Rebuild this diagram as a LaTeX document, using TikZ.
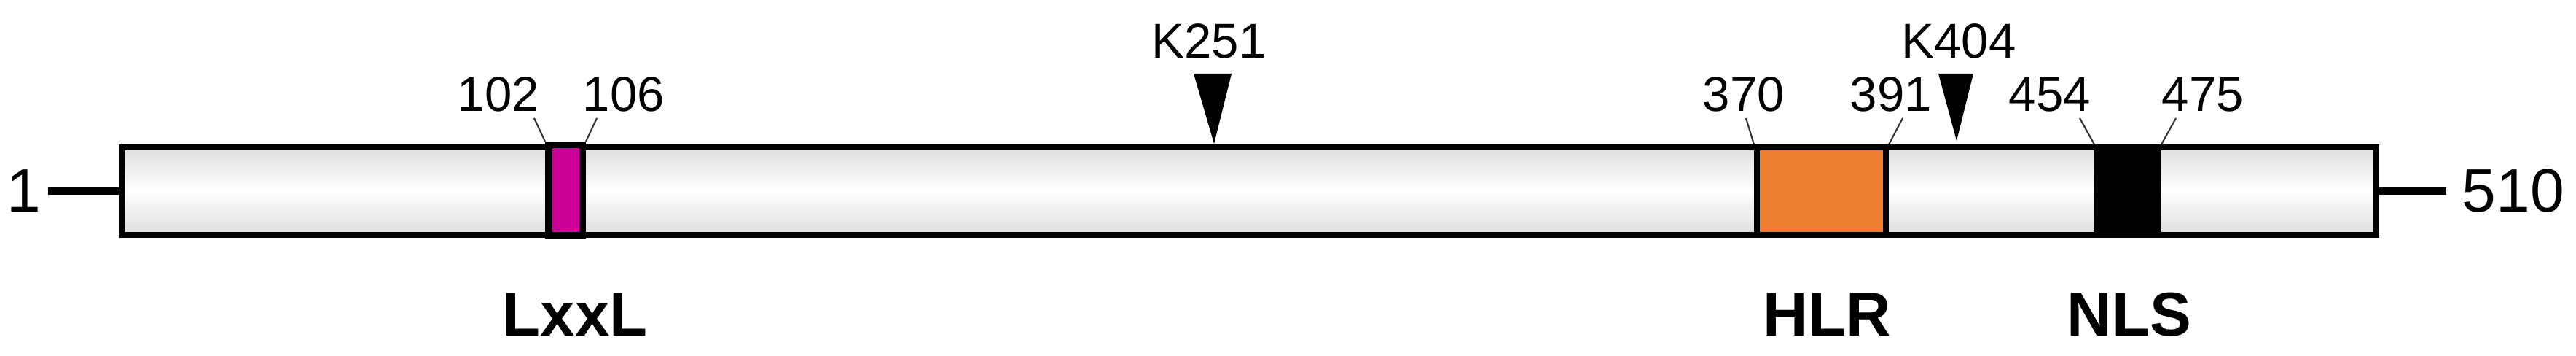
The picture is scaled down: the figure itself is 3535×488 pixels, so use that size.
\documentclass[tikz,border=0pt]{standalone}
\usepackage{fontspec}
\setmainfont{Liberation Sans}
\usetikzlibrary{positioning}

\definecolor{lxxlpink}{RGB}{204,0,153}
\definecolor{hlrorange}{RGB}{237,125,49}

\begin{document}
\begin{tikzpicture}[x=0.01cm, y=-0.01cm,
		num/.style={inner sep=0pt, anchor=base, font=\fontsize{19.1}{22}\selectfont},
		ends/.style={inner sep=0pt, font=\fontsize{23.9}{26}\selectfont},
		dname/.style={inner sep=0pt, anchor=base, font=\fontsize{24.2}{26}\bfseries\selectfont},
		dom/.style={draw=black, line width=0.08cm, inner sep=0pt, minimum height=1.2cm},
		tk/.style={line width=0.6pt, black!80},
		endln/.style={line width=0.09cm}]
		\useasboundingbox (0,0) rectangle (3535,488);

		% backbone 1..510
		\node[dom, minimum width=30.92cm, top color=black!13, bottom color=black!13, middle color=white] (b) at (1714,262) {};
		\node[ends, left=1.06cm of b.west] (s) {1};
		\node[ends, right=1.13cm of b.east] (e) {510};
		\draw[endln, shorten >=0.09cm] (b.west) -- (b.west -| s.east);
		\draw[endln, shorten >=0.21cm] (b.east) -- (b.east -| e.west);

		% domains
		\node[dom, line width=0.09cm, fill=lxxlpink, minimum width=0.47cm, minimum height=1.24cm] (l) at (776,260.5) {};
		\node[dom, fill=hlrorange, minimum width=1.77cm] (h) at (2499.5,262) {};
		\node[dom, fill=black, minimum width=0.84cm] (n) at (2920,262) {};

		% position labels
		\node[num] (p102) at (684,153) {102};
		\node[num] (p106) at (856,153) {106};
		\node[num] (p370) at (2393,153) {370};
		\node[num] (p391) at (2595,153) {391};
		\node[num] (p454) at (2813,153) {454};
		\node[num] (p475) at (3023,153) {475};

		\coordinate (t102) at (733,162);
		\coordinate (t106) at (819,162);
		\coordinate (t370) at (2396,162);
		\coordinate (t391) at (2611,162);
		\coordinate (t454) at (2854,162);
		\coordinate (t475) at (2986,162);

		\draw[tk] (t102) -- (l.north west);
		\draw[tk] (t106) -- (l.north east);
		\draw[tk] (t370) -- (h.north west);
		\draw[tk] (t391) -- (h.north east);
		\draw[tk] (t454) -- (n.north west);
		\draw[tk] (t475) -- (n.north east);

		% lysine sites
		\node[num] (k1) at (1659,80) {K251};
		\node[num] (k2) at (2688,80) {K404};
		\coordinate (m1) at (1666,197);
		\coordinate (m2) at (2685,193);
		\fill (m1) -- ++(-28,-96) -- ++(52,0) -- cycle;
		\fill (m2) -- ++(-25,-92) -- ++(48,0) -- cycle;

		% domain names
		\node[dname] (dl) at (789,460) {LxxL};
		\node[dname] (dh) at (2507,460) {HLR};
		\node[dname] (dn) at (2922,460) {NLS};
	\end{tikzpicture}
\end{document}
